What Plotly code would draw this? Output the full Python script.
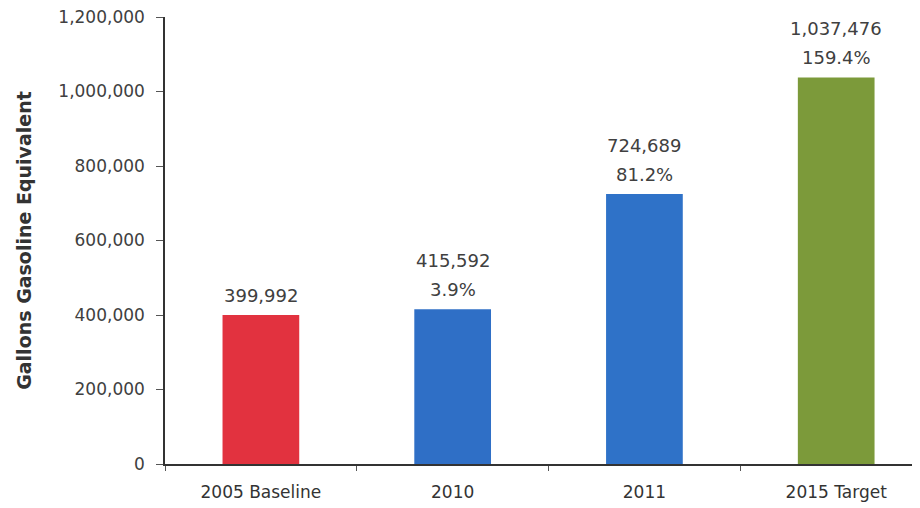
import plotly.graph_objects as go

categories = ["2005 Baseline", "2010", "2011", "2015 Target"]
values = [399992, 415592, 724689, 1037476]
pct_labels = ["", "3.9%", "81.2%", "159.4%"]
value_labels = ["399,992", "415,592", "724,689", "1,037,476"]
bar_colors = ["#E2323F", "#2F6FC6", "#2F72C8", "#7C9A3A"]
y_ticks = [0, 200000, 400000, 600000, 800000, 1000000, 1200000]
y_tick_text = ["0", "200,000", "400,000", "600,000", "800,000", "1,000,000", "1,200,000"]

FONT = "DejaVu Sans"
TXT = "#404040"

fig = go.Figure()
fig.add_trace(go.Bar(
    x=categories, y=values, marker=dict(color=bar_colors, line=dict(width=0)),
    width=0.4, hoverinfo="skip",
))

for i, (v, vl, pl) in enumerate(zip(values, value_labels, pct_labels)):
    if pl:
        fig.add_annotation(x=i, y=v, text=pl, showarrow=False, yanchor="middle",
                           yshift=20, font=dict(family=FONT, size=18, color=TXT))
        fig.add_annotation(x=i, y=v, text=vl, showarrow=False, yanchor="middle",
                           yshift=49, font=dict(family=FONT, size=18, color=TXT))
    else:
        fig.add_annotation(x=i, y=v, text=vl, showarrow=False, yanchor="middle",
                           yshift=20, font=dict(family=FONT, size=18, color=TXT))

fig.update_layout(
    width=912, height=500,
    margin=dict(l=157, r=0, t=9, b=44),
    paper_bgcolor="white", plot_bgcolor="white",
    showlegend=False,
    font=dict(family=FONT, size=17, color=TXT),
    xaxis=dict(
        type="category", range=[-0.5, 3.437],
        showline=True, linecolor="#333333", linewidth=1.5,
        ticks="outside", tickson="boundaries", ticklen=5, tickcolor="#555555",
        showgrid=False, ticklabelstandoff=12,
        tickfont=dict(family=FONT, size=17, color="#333333"),
    ),
    yaxis=dict(
        range=[0, 1200000], tickvals=y_ticks, ticktext=y_tick_text,
        showline=True, linecolor="#333333", linewidth=1.5,
        ticks="outside", ticklen=7, tickcolor="#555555",
        showgrid=False, zeroline=False, ticklabelstandoff=8,
        ticklabeloverflow="allow",
        tickfont=dict(family=FONT, size=17, color=TXT),
        title=dict(text="<b>Gallons Gasoline Equivalent</b>",
                   font=dict(family=FONT, size=19, color="#333333"), standoff=22),
    ),
)

fig.write_html("out.html")
